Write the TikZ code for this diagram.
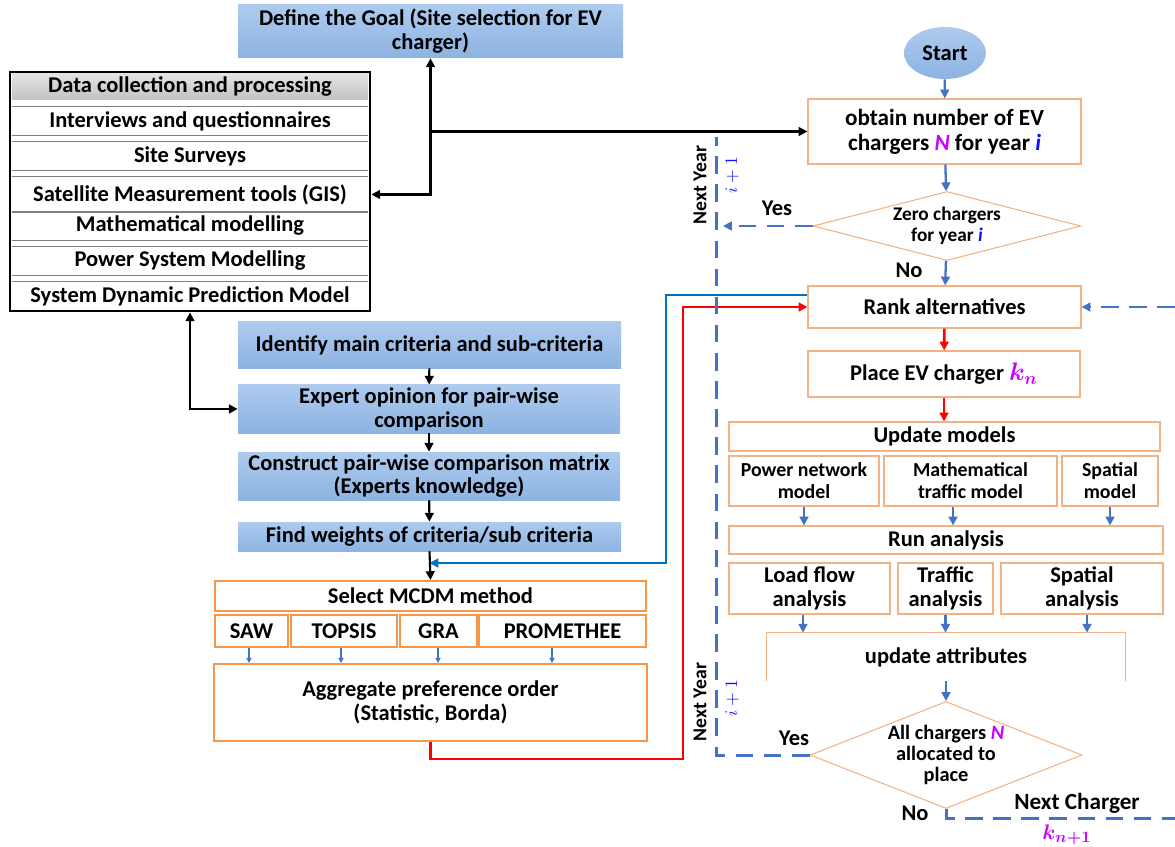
\documentclass[tikz,border=0pt]{standalone}
\usepackage{fontspec}
\setmainfont{Carlito}
\usepackage{amsmath}
\usetikzlibrary{arrows.meta,shapes.geometric}
\definecolor{bfillT}{HTML}{ADCBEE}
\definecolor{bfillB}{HTML}{8DB3E2}
\definecolor{orgA}{HTML}{F79646}
\definecolor{orgB}{HTML}{F4B183}
\definecolor{arB}{HTML}{4472C4}
\definecolor{lnB}{HTML}{0070C0}
\definecolor{mag}{HTML}{CC00FF}
\definecolor{vblue}{HTML}{1010FF}
\definecolor{redl}{HTML}{FF0000}
\definecolor{sepg}{HTML}{808080}
\newcommand\mkbox[7]{%
  \pgfmathsetmacro\bw{(#5-#3)*0.02}%
  \pgfmathsetmacro\bh{(#6-#4)*0.02}%
  \node[#2, minimum width=\bw cm, minimum height=\bh cm, inner sep=0pt] (#1) at ({(#3+#5)/2},{(#4+#6)/2}) {#7};%
}
\tikzset{
  every node/.style={font=\bfseries\fontsize{12.8}{13.6}\selectfont, align=center},
  smallf/.style={font=\bfseries\fontsize{11.3}{12.5}\selectfont},
  bluebox/.style={top color=bfillT, bottom color=bfillB, draw=none},
  obox/.style={draw=orgA, line width=1.1pt, fill=white},
  rbox/.style={draw=orgB, line width=0.7pt, fill=white},
  rowbox/.style={draw=none},
  sepline/.style={draw=sepg, line width=0.6pt},
  blk/.style={line width=1.2pt, black},
  bla/.style={line width=1.3pt, arB},
  smallbla/.style={line width=0.8pt, arB, -{Triangle[length=3pt,width=3pt]}},
  redarr/.style={line width=1.5pt, redl},
  bluln/.style={line width=1.4pt, lnB},
  dsh/.style={line width=1.7pt, arB, dash pattern=on 10pt off 6pt},
  lbl/.style={font=\bfseries\fontsize{12.8}{13.6}\selectfont},
  rot/.style={rotate=90},
  >={Triangle[length=5pt,width=5pt]}
}
\begin{document}
\begin{tikzpicture}[x=0.02cm,y=-0.02cm]
\useasboundingbox (0,0) rectangle (1175,847);

% ---------- left part ----------
\mkbox{goal}{bluebox}{238}{5}{623}{58}{Define the Goal (Site selection for EV\\charger)}
\mkbox{data}{draw=black,line width=1.6pt}{10}{72}{370}{311}{}
\mkbox{hdr}{top color=gray!22, bottom color=gray!48}{12}{74}{368}{100}{Data collection and processing}
\mkbox{r1}{rowbox}{12}{107}{368}{135}{Interviews and questionnaires}
\mkbox{r2}{rowbox}{12}{142}{368}{170}{Site Surveys}
\mkbox{r3}{rowbox}{12}{177}{368}{212}{Satellite Measurement tools (GIS)}
\mkbox{r4}{rowbox}{12}{212}{368}{240}{Mathematical modelling}
\mkbox{r5}{rowbox}{12}{247}{368}{275}{Power System Modelling}
\mkbox{r6}{rowbox}{12}{282}{368}{310}{System Dynamic Prediction Model}
\foreach \r in {r1,r2,r3,r4,r5}{
  \draw[sepline] (\r.north west) -- (\r.north east);
  \draw[sepline] (\r.south west) -- (\r.south east);
}
\draw[sepline] (r6.north west) -- (r6.north east);

\mkbox{identify}{bluebox}{238}{322}{621}{368}{Identify main criteria and sub-criteria}
\mkbox{expert}{bluebox}{238}{385}{620}{433}{Expert opinion for pair-wise\\comparison}
\mkbox{construct}{bluebox}{238}{452}{620}{500}{Construct pair-wise comparison matrix\\(Experts knowledge)}
\mkbox{weights}{bluebox}{238}{522}{621}{551}{Find weights of criteria/sub criteria}
\mkbox{select}{obox}{215}{581}{646}{611}{Select MCDM method}
\mkbox{saw}{obox}{215}{615}{288}{647}{SAW}
\mkbox{topsis}{obox}{291}{615}{397}{647}{TOPSIS}
\mkbox{gra}{obox}{400}{615}{477}{647}{GRA}
\mkbox{prom}{obox}{479}{615}{646}{647}{PROMETHEE}
\mkbox{agg}{obox}{214}{664}{647}{741}{Aggregate preference order\\(Statistic, Borda)}

% ---------- right part ----------
\node[ellipse, top color=bfillT, bottom color=bfillB, draw=none, minimum width=1.64cm, minimum height=1.04cm, inner sep=0pt] (start) at (945,53) {Start};
\mkbox{obtain}{rbox,font=\bfseries\fontsize{13.2}{14.2}\selectfont}{808}{99}{1081}{164}{obtain number of EV\\chargers {\color{mag}\textit{N}} for year {\color{vblue}\textit{i}}}
\node[diamond, draw=orgB, line width=0.6pt, minimum width=5.36cm, minimum height=1.38cm, inner sep=0pt] (dia1) at (947,226) {};
\node[font=\bfseries\fontsize{11}{12}\selectfont] (dia1t) at (dia1) {Zero chargers\\for year {\color{vblue}\textit{i}}};
\mkbox{rank}{rbox}{808}{286}{1081}{328}{Rank alternatives}
\mkbox{place}{rbox}{808}{351}{1080}{397}{Place EV charger {\color{mag}\fontsize{14}{14}\selectfont$\boldsymbol{k_n}$}}
\mkbox{upd}{rbox}{729}{422}{1160}{451}{Update models}
\mkbox{pnm}{rbox,smallf}{729}{456}{879}{506}{Power network\\model}
\mkbox{mtm}{rbox,smallf}{884}{456}{1057}{506}{Mathematical\\traffic model}
\mkbox{smod}{rbox,smallf}{1062}{456}{1158}{506}{Spatial\\model}
\mkbox{run}{rbox}{729}{526}{1163}{554}{Run analysis}
\mkbox{lfa}{rbox}{729}{563}{890}{614}{Load flow\\analysis}
\mkbox{tan}{rbox}{898}{563}{993}{614}{Traffic\\analysis}
\mkbox{san}{rbox}{1001}{563}{1163}{614}{Spatial\\analysis}
\mkbox{attr}{}{767}{633}{1125}{681}{update attributes}
\draw[orgB, line width=0.7pt] (attr.south west) -- (attr.north west) -- (attr.north east) -- (attr.south east);
\node[diamond, draw=orgB, line width=0.6pt, minimum width=5.44cm, minimum height=2.14cm, inner sep=0pt] (dia2) at (946,755) {};
\node[font=\bfseries\fontsize{11.6}{12.2}\selectfont] (dia2t) at (dia2) {All chargers {\color{mag}\textit{N}}\\allocated to\\place};

% coordinates for free ends
\coordinate (ny1) at (716,137);
\coordinate (ny2) at (716,755);
\coordinate (y1e) at (723,226);
\coordinate (nc) at (1175,818);
\coordinate (rr) at (1175,307);
\coordinate (bj) at (666,563);
\coordinate (rj) at (683,759);

% ---------- connectors, left ----------
\draw[blk,<->] (goal.south) |- (r3.east -| data.east);
\draw[blk,->] (goal.south |- obtain.west) -- (obtain.west);
\draw[blk,<->] (data.south) |- (expert.west);
\draw[blk,->] (identify) -- (expert);
\draw[blk,->] (expert) -- (construct);
\draw[blk,->] (construct) -- (weights);
\draw[blk,->] (weights.south) -- (select.north);
\foreach \m/\xx in {saw/249,topsis/341,gra/438,prom/552}{
  \draw[smallbla] (\m.south -| \xx,0) -- (agg.north -| \xx,0);
}
\draw[bluln,->] ([yshift=0.24cm]rank.west) -| (bj) -- (weights.south |- bj);
\draw[redarr,->] (agg.south) |- (rj) |- (rank.west);

% ---------- connectors, right ----------
\draw[bla,->] (start) -- (obtain);
\draw[bla,->] (obtain) -- (dia1);
\draw[bla,->] (dia1) -- (rank);
\draw[redarr,->] (rank) -- (place);
\draw[redarr,->] (place.south) -- (upd.north -| place.south);
\draw[bla,->] (pnm.south) -- (run.north -| pnm.south);
\draw[bla,->] (mtm.south -| 953,0) -- (run.north -| 953,0);
\draw[bla,->] (smod.south) -- (run.north -| smod.south);
\draw[bla,->] (lfa.south -| 803,0) -- (attr.north -| 803,0);
\draw[bla,->] (tan.south) -- (attr.north -| tan.south);
\draw[bla,->] (san.south -| 1087,0) -- (attr.north -| 1087,0);
\draw[bla,->] (attr.south) -- (dia2.north);
\draw[dsh,->] (dia1.west) -- (y1e);
\draw[dsh] (dia2.west) -- (ny2) -- (ny1);
\draw[dsh] (dia2.south) |- (nc);
\draw[dsh,->] (rr) -- (rank.east);

% ---------- labels ----------
\node[lbl] (yes1) at (777,208) {Yes};
\node[lbl] (no1) at (909,270) {No};
\node[lbl] (yes2) at (794,738) {Yes};
\node[lbl] (no2) at (915,813) {No};
\node[lbl, font=\bfseries\fontsize{13.2}{14}\selectfont] (nch) at (1077,803) {Next Charger};
\node[lbl, text=mag] (kn1) at (1067,835) {\fontsize{13}{13}\selectfont$\boldsymbol{k_{n+1}}$};
\node[lbl, rot, font=\bfseries\fontsize{11.2}{12}\selectfont] (ny1t) at (700,185) {Next Year};
\node[lbl, rot, font=\bfseries\fontsize{11.2}{12}\selectfont] (ny2t) at (700,702) {Next Year};
\node[rot, text=vblue, font=\fontsize{10}{10}\selectfont] (ip1) at (732,175) {$i+1$};
\node[rot, text=vblue, font=\fontsize{10}{10}\selectfont] (ip2) at (732,698) {$i+1$};
\end{tikzpicture}
\end{document}
